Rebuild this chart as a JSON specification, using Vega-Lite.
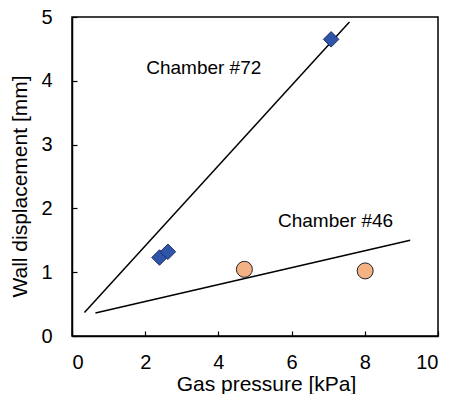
{
  "$schema": "https://vega.github.io/schema/vega-lite/v6.json",
  "autosize": "none",
  "width": 366,
  "height": 319,
  "padding": {"left": 72, "top": 17, "right": 11, "bottom": 58},
  "background": "white",
  "config": {
    "view": {"stroke": "black", "strokeWidth": 1.5},
    "font": "Liberation Sans",
    "axis": {
      "grid": false,
      "domainColor": "black",
      "domainWidth": 1.5,
      "tickColor": "black",
      "tickWidth": 1.2,
      "labelFont": "Liberation Sans",
      "labelFontSize": 20,
      "labelColor": "black",
      "titleFont": "Liberation Sans",
      "titleFontSize": 21,
      "titleFontWeight": "normal",
      "titleColor": "black"
    }
  },
  "datasets": {
    "fits": [
      {"chamber": "72", "pressure": 0.34, "disp": 0.37},
      {"chamber": "72", "pressure": 7.58, "disp": 4.92},
      {"chamber": "46", "pressure": 0.64, "disp": 0.36},
      {"chamber": "46", "pressure": 9.24, "disp": 1.50}
    ],
    "points": [
      {"chamber": "72", "pressure": 2.39, "disp": 1.23},
      {"chamber": "72", "pressure": 2.62, "disp": 1.32},
      {"chamber": "72", "pressure": 7.08, "disp": 4.65},
      {"chamber": "46", "pressure": 4.71, "disp": 1.045},
      {"chamber": "46", "pressure": 8.01, "disp": 1.02}
    ],
    "labels": [
      {"text": "Chamber #72", "pressure": 3.6, "disp": 4.2},
      {"text": "Chamber #46", "pressure": 7.2, "disp": 1.81}
    ]
  },
  "layer": [
    {
      "data": {"name": "fits"},
      "mark": {"type": "line", "color": "black", "strokeWidth": 1.5},
      "encoding": {
        "x": {
          "field": "pressure", "type": "quantitative",
          "scale": {"domain": [0, 10], "nice": false},
          "axis": {"title": "Gas pressure [kPa]", "values": [0, 2, 4, 6, 8, 10], "format": "d", "tickSize": -5, "labelPadding": 21, "titlePadding": 1, "titleX": 194, "titleAlign": "center"}
        },
        "y": {
          "field": "disp", "type": "quantitative",
          "scale": {"domain": [0, 5], "nice": false},
          "axis": {"title": "Wall displacement [mm]", "values": [0, 1, 2, 3, 4, 5], "format": "d", "tickSize": -5, "labelPadding": 25, "titlePadding": 10, "titleY": 169, "titleAlign": "center"}
        },
        "detail": {"field": "chamber"}
      }
    },
    {
      "data": {"name": "points"},
      "mark": {"type": "point", "filled": true, "opacity": 1, "strokeWidth": 1},
      "encoding": {
        "x": {"field": "pressure", "type": "quantitative"},
        "y": {"field": "disp", "type": "quantitative"},
        "shape": {
          "field": "chamber", "type": "nominal",
          "scale": {"domain": ["72", "46"], "range": ["diamond", "circle"]},
          "legend": null
        },
        "size": {
          "field": "chamber", "type": "nominal",
          "scale": {"domain": ["72", "46"], "range": [240, 256]},
          "legend": null
        },
        "fill": {
          "field": "chamber", "type": "nominal",
          "scale": {"domain": ["72", "46"], "range": ["#2F55A8", "#F4B183"]},
          "legend": null
        },
        "stroke": {
          "field": "chamber", "type": "nominal",
          "scale": {"domain": ["72", "46"], "range": ["#1F2F66", "#222222"]},
          "legend": null
        }
      }
    },
    {
      "data": {"name": "labels"},
      "mark": {"type": "text", "fontSize": 19, "font": "Liberation Sans", "color": "black", "align": "center", "baseline": "middle"},
      "encoding": {
        "x": {"field": "pressure", "type": "quantitative"},
        "y": {"field": "disp", "type": "quantitative"},
        "text": {"field": "text"}
      }
    }
  ]
}
